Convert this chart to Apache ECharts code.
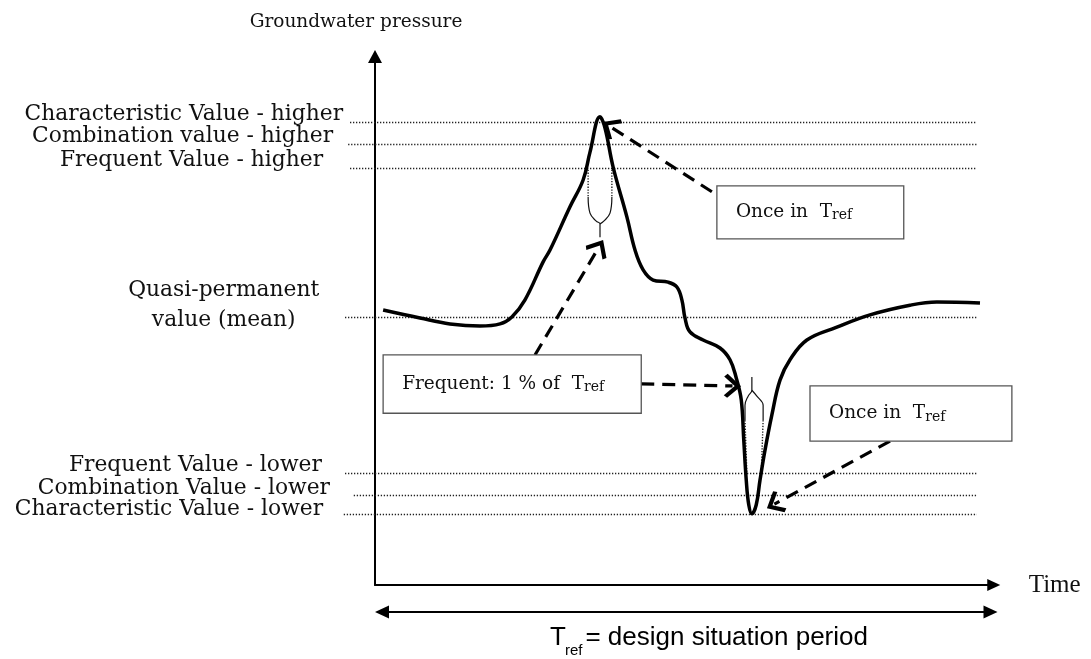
<!DOCTYPE html>
<html>
<head>
<meta charset="utf-8">
<script src="https://cdn.jsdelivr.net/npm/echarts@6/dist/echarts.min.js"></script>
<style>
html,body{margin:0;padding:0;background:#fff;}
#chart{width:1091px;height:659px;}
</style>
</head>
<body>
<div id="chart"></div>
<script>
// ---------------- DATA (schematic values, time 0..100, pressure 0..100) ----------------
const curveX = [1.3, 7.2, 12.0, 16.8, 20.0, 21.9, 24.0, 26.9, 28.0, 31.2, 33.3, 34.4, 36.0, 36.8, 38.1, 40.3, 41.6, 42.9, 44.5, 46.9, 48.3, 49.1, 49.6, 50.4, 52.5, 55.2, 56.8, 57.8, 58.6, 59.0, 59.4, 59.8, 60.3, 61.0, 61.6, 62.4, 63.5, 64.8, 66.4, 69.1, 73.9, 79.2, 85.6, 89.9, 96.8];
const curveY = [51.4, 49.9, 48.8, 48.4, 48.8, 50.1, 53.3, 60.4, 62.6, 70.7, 75.7, 80.9, 87.5, 85.4, 78.1, 68.8, 62.6, 58.9, 57.0, 56.6, 55.7, 53.3, 49.9, 47.3, 45.8, 44.3, 42.1, 38.7, 34.6, 27.1, 19.6, 15.0, 13.3, 15.0, 19.6, 25.2, 31.8, 38.3, 42.1, 45.8, 48.2, 50.5, 52.3, 52.9, 52.7];

const levelNames = ['Characteristic Value - higher', 'Combination value - higher', 'Frequent Value - higher',
  'Quasi-permanent\nvalue (mean)', 'Frequent Value - lower', 'Combination Value - lower', 'Characteristic Value - lower'];
const levelValues = [86.6, 82.4, 77.9, 50.1, 20.9, 16.8, 13.3];

const yAxisTitle = 'Groundwater pressure';
const xAxisTitle = 'Time';

const boxMain = ['Once in  T', 'Frequent: 1 % of  T', 'Once in  T'];
const boxSub = ['ref', 'ref', 'ref'];
const boxX1 = [54.7, 1.3, 69.6];
const boxX2 = [84.6, 42.6, 101.9];
const boxY1 = [74.6, 43.0, 37.2];
const boxY2 = [64.7, 32.1, 26.9];

const arrowFrom = [[53.9, 73.5], [25.6, 43.0], [42.6, 37.6], [82.4, 26.9]];
const arrowTo = [[37.6, 85.7], [35.8, 63.1], [57.2, 37.2], [63.9, 15.1]];

const peakInsetSolid = [
  [[34.1, 72.5], [34.4, 69.5], [35.4, 68.0], [36.0, 67.5], [36.0, 65.0]],
  [[37.9, 72.5], [37.6, 69.5], [36.6, 68.0], [36.0, 67.5]]
];
const peakInsetDotted = [
  [[34.1, 77.6], [34.1, 72.5]],
  [[37.9, 77.6], [37.9, 72.5]]
];
const troughInsetSolid = [
  [[60.3, 38.9], [60.3, 36.4], [59.7, 35.3], [59.2, 33.6], [59.2, 30.8]],
  [[60.3, 36.4], [61.1, 35.3], [62.1, 33.6], [62.1, 30.8]]
];
const troughInsetDotted = [
  [[59.2, 30.8], [59.5, 20.9]],
  [[62.1, 30.8], [61.8, 20.9]]
];

const periodStart = 0;
const periodEnd = 99.6;
const periodLevel = -5.05;
const periodText = ['T', 'ref', '= design situation period'];

// ---------------- LAYOUT / STYLE ----------------
const SERIF = '"DejaVu Serif", serif';
const LABEL_FS = 21.8;
const BOX_FONT = '18.5px ' + SERIF;
const SUB_FONT = '14px ' + SERIF;
const levelLineStart = [-4.0, -4.3, -4.0, -4.8, -4.8, -3.4, -5.0];
const levelLineEnd = 96.3;
const labelAnchorX = [-5.1, -6.7, -8.3, -24.2, -8.5, -7.2, -8.3];
const labelAlign = ['right', 'right', 'right', 'center', 'right', 'right', 'right'];
const labelDy = [-7.5, -7.5, -7.5, -12, -7.5, -7, -5];

const cvs = document.createElement('canvas');
const ctx = cvs.getContext('2d');
function measure(text, font) { ctx.font = font; return ctx.measureText(text).width; }

const CHEVRON = 'path://M0,0 L16,14 L12.5,17.5 L0,6.5 L-12.5,17.5 L-16,14 Z';

const chart = echarts.init(document.getElementById('chart'), null, { renderer: 'canvas' });

const series = [];

// dotted level lines (custom so they can start left of the axis)
series.push({
  type: 'custom', silent: true, clip: false, z: 1,
  data: levelValues.map((v, i) => [i, v]),
  encode: { x: 0, y: 1 },
  renderItem: (params, api) => {
    const i = api.value(0), v = api.value(1);
    const a = api.coord([levelLineStart[i], v]);
    const b = api.coord([levelLineEnd, v]);
    return {
      type: 'line', shape: { x1: a[0], y1: Math.round(a[1]) + 0.5, x2: b[0], y2: Math.round(a[1]) + 0.5 },
      style: { stroke: '#222', lineWidth: 1.3, lineDash: [1.3, 1.7] }
    };
  }
});

// main curve
series.push({
  type: 'line', name: 'pressure', silent: true, clip: false, symbol: 'none', z: 3,
  smooth: 0.4,
  data: curveX.map((x, i) => [x, curveY[i]]),
  lineStyle: { color: '#000', width: 3.5 }
});

// insets
[...peakInsetSolid, ...troughInsetSolid].forEach(p => series.push({
  type: 'line', silent: true, clip: false, symbol: 'none', z: 2, smooth: 0.4,
  data: p, lineStyle: { color: '#111', width: 1.2 }
}));
[...peakInsetDotted, ...troughInsetDotted].forEach(p => series.push({
  type: 'line', silent: true, clip: false, symbol: 'none', z: 2,
  data: p, lineStyle: { color: '#222', width: 1.4, type: [1.3, 1.5] }
}));

// dashed arrows
series.push({
  type: 'line', silent: true, clip: false, data: [], z: 4,
  markLine: {
    silent: true, animation: false,
    symbol: ['none', CHEVRON], symbolSize: [24, 17],
    label: { show: false },
    lineStyle: { color: '#000', width: 3.2, type: [13, 8] },
    data: arrowFrom.map((f, i) => [{ coord: f }, { coord: arrowTo[i] }])
  }
});

// boxes
series.push({
  type: 'custom', silent: true, clip: false, z: 5,
  data: boxMain.map((_, i) => [i]),
  renderItem: (params, api) => {
    const i = api.value(0);
    const p1 = api.coord([boxX1[i], boxY1[i]]);
    const p2 = api.coord([boxX2[i], boxY2[i]]);
    const x = p1[0], y = p1[1], w = p2[0] - p1[0], h = p2[1] - p1[1];
    const tx = x + 19, ty = y + h / 2;
    const mw = measure(boxMain[i], BOX_FONT);
    return {
      type: 'group', children: [
        { type: 'rect', shape: { x, y, width: w, height: h }, style: { fill: '#fff', stroke: '#555', lineWidth: 1.3 } },
        { type: 'text', x: tx, y: ty, style: { text: boxMain[i], font: BOX_FONT, fill: '#111', align: 'left', verticalAlign: 'middle' } },
        { type: 'text', x: tx + mw, y: ty + 3.5, style: { text: boxSub[i], font: SUB_FONT, fill: '#111', align: 'left', verticalAlign: 'middle' } }
      ]
    };
  }
});

// level labels
series.push({
  type: 'custom', silent: true, clip: false, z: 5,
  data: levelValues.map((v, i) => [i, v]),
  encode: { x: 0, y: 1 },
  renderItem: (params, api) => {
    const i = api.value(0);
    const v = api.value(1);
    const p = api.coord([labelAnchorX[i], v]);
    return {
      type: 'text', x: p[0], y: p[1] + labelDy[i],
      style: {
        text: levelNames[i], font: LABEL_FS + 'px ' + SERIF, fill: '#111',
        align: labelAlign[i], verticalAlign: 'middle', lineHeight: 30
      }
    };
  }
});

// period double arrow + text
series.push({
  type: 'custom', silent: true, clip: false, z: 5,
  data: [[periodStart, periodLevel, periodEnd]],
  encode: { x: 0, y: 1 },
  renderItem: (params, api) => {
    const a = api.coord([api.value(0), api.value(1)]);
    const b = api.coord([api.value(2), api.value(1)]);
    const y = a[1];
    const L = 14, W = 6.5;
    const tFont = '26px "Liberation Sans", Arial, sans-serif';
    const sFont = '15px "Liberation Sans", Arial, sans-serif';
    const tx = api.coord([28.0, 0])[0];
    const ty = y + 26;
    const wT = measure(periodText[0], tFont);
    const wS = measure(periodText[1], sFont);
    return {
      type: 'group', children: [
        { type: 'line', shape: { x1: a[0] + L - 2, y1: y, x2: b[0] - L + 2, y2: y }, style: { stroke: '#000', lineWidth: 2 } },
        { type: 'polygon', shape: { points: [[a[0], y], [a[0] + L, y - W], [a[0] + L, y + W]] }, style: { fill: '#000' } },
        { type: 'polygon', shape: { points: [[b[0], y], [b[0] - L, y - W], [b[0] - L, y + W]] }, style: { fill: '#000' } },
        { type: 'text', x: tx, y: ty, style: { text: periodText[0], font: tFont, fill: '#000', align: 'left', verticalAlign: 'middle' } },
        { type: 'text', x: tx + wT - 1, y: ty + 13, style: { text: periodText[1], font: sFont, fill: '#000', align: 'left', verticalAlign: 'middle' } },
        { type: 'text', x: tx + wT + wS + 2, y: ty, style: { text: periodText[2], font: tFont, fill: '#000', align: 'left', verticalAlign: 'middle' } }
      ]
    };
  }
});

const option = {
  animation: false,
  backgroundColor: '#fff',
  grid: { left: 375, right: 97.25, top: 56.4, bottom: 74, containLabel: false },
  xAxis: {
    type: 'value', min: 0, max: 99,
    name: xAxisTitle, nameLocation: 'end', nameGap: 35,
    nameTextStyle: { fontFamily: '"Liberation Serif", serif', fontSize: 25, color: '#111', verticalAlign: 'middle', align: 'left' },
    axisLine: { show: true, onZero: false, symbol: ['none', 'triangle'], symbolSize: [12, 13], lineStyle: { color: '#000', width: 2 } },
    axisTick: { show: false }, axisLabel: { show: false }, splitLine: { show: false }
  },
  yAxis: {
    type: 'value', min: 0, max: 98.8,
    name: yAxisTitle, nameLocation: 'end', nameGap: 34,
    nameTextStyle: { fontFamily: SERIF, fontSize: 18.5, color: '#111', align: 'center', verticalAlign: 'middle', padding: [0, 38, 0, 0] },
    axisLine: { show: true, onZero: false, symbol: ['none', 'triangle'], symbolSize: [14, 13], lineStyle: { color: '#000', width: 2 } },
    axisTick: { show: false }, axisLabel: { show: false }, splitLine: { show: false }
  },
  series
};
chart.setOption(option);
</script>
</body>
</html>
